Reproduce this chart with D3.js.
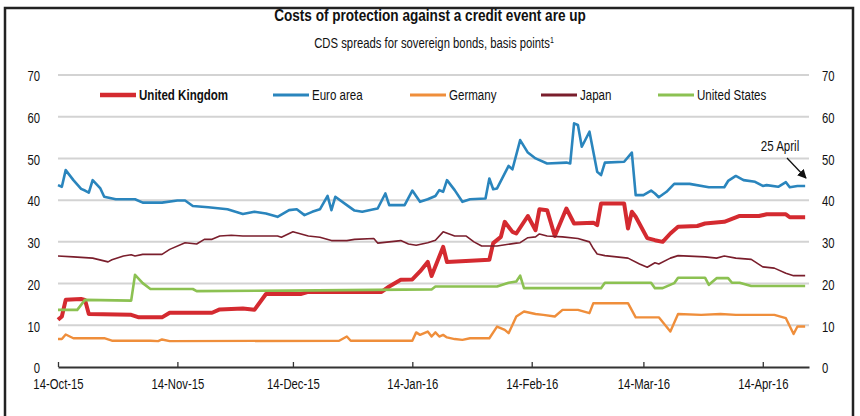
<!DOCTYPE html>
<html>
<head>
<meta charset="utf-8">
<script src="https://cdn.jsdelivr.net/npm/d3@7"></script>
<style>
  body { margin: 0; background: #fff; }
  svg text { font-family: "Liberation Sans", Arial, sans-serif; fill: #111; }
</style>
</head>
<body>
<svg id="chart" width="860" height="416"></svg>
<script>
// days counted from 14-Oct-15, value in basis points
const startDate = new Date(Date.UTC(2015, 9, 14));

const unitedKingdom = [[0,11.3],[1,12.1],[2,16.1],[6,16.3],[7,16.1],[8,12.7],[19,12.5],[21,11.9],[27,11.9],[29,13.0],
  [40,13.0],[42,13.8],[48,14.0],[51,13.7],[54,17.5],[63,17.5],[65,18.0],[84,18.0],[86,19.3],[89,20.9],[92,21.0],
  [94,22.9],[96,25.2],[97,21.8],[100,28.8],[101,25.2],[112,25.7],[113,29.7],[115,31.2],[116,34.8],[118,32.4],
  [119,32.0],[122,36.2],[124,32.8],[125,37.8],[127,37.6],[129,31.4],[132,38.0],[134,34.4],[139,34.6],[140,34.0],
  [141,39.2],[147,39.2],[148,33.2],[149,37.2],[150,36.0],[153,30.9],[155,30.4],[157,30.0],[159,32.0],[161,33.6],
  [166,33.8],[168,34.4],[173,34.8],[177,36.2],[182,36.2],[184,36.6],[189,36.6],[190,35.9],[194,35.9]];

const euroArea = [[0,43.6],[1,43.2],[2,47.2],[4,44.8],[6,42.7],[7,42.3],[8,41.8],[9,44.8],[11,42.8],[12,40.8],
  [15,40.2],[20,40.2],[22,39.4],[27,39.4],[31,39.9],[33,39.9],[35,38.6],[39,38.3],[44,37.8],[48,36.7],[51,37.2],
  [54,36.8],[57,36.0],[60,37.6],[62,37.8],[64,36.4],[66,37.2],[68,37.8],[70,41.0],[71,37.6],[72,40.8],[75,38.8],
  [77,37.5],[79,37.2],[82,37.8],[83,38.0],[85,41.6],[86,38.8],[90,38.8],[92,42.3],[94,39.6],[96,40.2],[98,41.0],
  [99,42.4],[100,42.0],[101,44.8],[103,42.4],[105,39.6],[107,40.2],[111,40.4],[112,45.2],[113,42.6],[114,42.8],
  [117,48.2],[118,47.4],[120,54.4],[122,51.4],[124,50.0],[127,48.8],[132,49.0],[133,48.8],[134,58.4],[135,58.0],
  [136,52.8],[138,56.4],[140,46.8],[141,46.0],[142,49.0],[147,49.2],[149,51.4],[150,41.2],[152,41.2],[154,42.3],
  [155,41.6],[156,40.7],[158,42.0],[160,43.9],[164,43.9],[169,43.1],[173,43.1],[174,44.6],[176,45.8],[178,44.8],
  [181,44.4],[183,43.4],[184,43.6],[187,43.2],[189,44.3],[190,43.1],[192,43.4],[194,43.4]];

const germany = [[0,6.7],[1,6.7],[2,7.8],[4,6.9],[12,6.9],[14,6.3],[24,6.3],[26,6.2],[27,6.6],[29,6.2],[73,6.3],
  [75,7.3],[76,6.3],[92,6.3],[93,8.3],[94,7.7],[96,8.5],[97,7.3],[98,8.3],[99,7.3],[100,7.7],[101,7.1],[103,6.7],
  [105,6.5],[107,6.9],[112,6.9],[114,9.7],[116,8.9],[117,8.1],[119,12.1],[121,13.3],[124,12.7],[126,12.5],
  [129,12.1],[131,13.7],[135,13.7],[138,12.9],[139,15.3],[148,15.3],[150,11.9],[156,11.9],[159,8.5],[161,12.7],
  [167,12.5],[172,12.7],[176,12.5],[186,12.5],[189,11.7],[191,7.9],[192,9.7],[194,9.7]];

const japan = [[0,26.6],[4,26.4],[9,26.1],[13,25.2],[14,25.7],[17,26.6],[19,26.9],[20,26.6],[22,27.0],[27,27.0],
  [29,28.2],[33,29.8],[36,29.5],[38,30.6],[40,30.6],[42,31.4],[45,31.6],[48,31.4],[57,31.4],[58,31.1],[61,32.4],
  [65,31.4],[68,31.1],[71,30.3],[75,30.3],[77,30.6],[82,30.8],[83,29.7],[86,30.0],[89,30.3],[91,29.5],[93,29.2],
  [96,29.8],[98,30.4],[100,32.4],[103,31.4],[106,31.4],[108,30.0],[110,29.0],[114,29.0],[119,29.7],[120,29.8],
  [122,31.0],[124,31.2],[125,31.9],[127,31.4],[131,31.2],[135,30.8],[138,30.0],[139,28.4],[140,27.1],[142,26.7],
  [148,26.1],[151,24.7],[153,23.9],[155,25.0],[156,24.7],[159,26.1],[161,26.7],[168,26.4],[171,26.1],[173,26.6],
  [176,26.1],[180,25.8],[183,24.0],[186,23.7],[189,22.5],[191,21.9],[194,21.9]];

const unitedStates = [[0,13.7],[5,13.7],[7,16.1],[19,15.9],[20,22.1],[22,20.1],[24,18.7],[35,18.7],[36,18.2],
  [60,18.3],[97,18.6],[98,19.3],[114,19.3],[117,20.2],[119,20.5],[120,21.9],[121,18.9],[141,18.9],[142,20.2],
  [154,20.2],[155,18.9],[157,18.9],[160,20.1],[161,21.4],[168,21.4],[169,19.7],[171,21.3],[174,21.3],[175,20.2],
  [177,20.2],[180,19.4],[194,19.4]];

const seriesNames = ["United Kingdom", "Euro area", "Germany", "Japan", "United States"];
const seriesData = [unitedKingdom, euroArea, germany, japan, unitedStates];
const seriesColors = ["#d42a30", "#2a85bd", "#ef8e3b", "#7a1e2c", "#8cc152"];
const seriesWidths = [4, 2.6, 2.4, 1.6, 2.6];

const yTicks = [0, 10, 20, 30, 40, 50, 60, 70];
const xTickDates = ["2015-10-14", "2015-11-14", "2015-12-14", "2016-01-14", "2016-02-14", "2016-03-14", "2016-04-14"];

// squeeze text horizontally, the original uses a narrow face
function narrow(sel, k) {
  sel.each(function() {
    const t = d3.select(this);
    const xv = +t.attr("x") || 0;
    t.attr("x", xv / k).attr("transform", "scale(" + k + ",1)");
  });
}

const svg = d3.select("#chart");
svg.append("rect").attr("width", 860).attr("height", 416).attr("fill", "#fff");

// frame
svg.append("path")
  .attr("d", "M5,416 V8 H853 V416")
  .attr("fill", "none").attr("stroke", "#222").attr("stroke-width", 2.5);

const title = svg.append("text").attr("x", 430).attr("y", 21).attr("text-anchor", "middle")
  .style("font-size", "17px").style("font-weight", "bold")
  .text("Costs of protection against a credit event are up");
const sub = svg.append("text").attr("x", 434).attr("y", 48).attr("text-anchor", "middle")
  .style("font-size", "14.5px");
sub.append("tspan").text("CDS spreads for sovereign bonds, basis points");
sub.append("tspan").attr("dy", -5).style("font-size", "9px").text("1");
narrow(title, 0.8);
narrow(sub, 0.78);

const x = d3.scaleUtc()
  .domain([startDate, d3.utcDay.offset(startDate, 195)])
  .range([58, 809]);
const y = d3.scaleLinear().domain([0, 70]).range([367, 75]);

// gridlines
svg.append("g").selectAll("line").data(yTicks.filter(d => d > 0)).enter().append("line")
  .attr("x1", 58).attr("x2", 809)
  .attr("y1", d => y(d)).attr("y2", d => y(d))
  .attr("stroke", "#d3d3d3").attr("stroke-width", 2);

const yLeft = svg.append("g").attr("transform", "translate(58,0)")
  .call(d3.axisLeft(y).tickValues(yTicks).tickSize(0).tickPadding(18));
const yRight = svg.append("g").attr("transform", "translate(809,0)")
  .call(d3.axisRight(y).tickValues(yTicks).tickSize(0).tickPadding(13));
[yLeft, yRight].forEach(g => {
  g.select(".domain").remove();
  g.selectAll("text").style("font-size", "14.5px").attr("dy", "0.4em").call(narrow, 0.78);
});

const xAxis = svg.append("g").attr("transform", "translate(0,367)")
  .call(d3.axisBottom(x)
    .tickValues(xTickDates.map(d => new Date(d + "T00:00:00Z")))
    .tickFormat(d3.utcFormat("%d-%b-%y"))
    .tickSize(-5).tickSizeOuter(0).tickPadding(12));
xAxis.select(".domain").attr("stroke", "#333").attr("stroke-width", 2);
xAxis.selectAll(".tick line").attr("stroke", "#333").attr("stroke-width", 1.3);
xAxis.selectAll("text").style("font-size", "14.5px").call(narrow, 0.78);

// lines
const line = d3.line()
  .x(d => x(d3.utcDay.offset(startDate, d[0])))
  .y(d => y(d[1]));

seriesData.forEach((s, i) => {
  svg.append("path").datum(s)
    .attr("fill", "none")
    .attr("stroke", seriesColors[i])
    .attr("stroke-width", seriesWidths[i])
    .attr("stroke-linejoin", "round")
    .attr("d", line);
});

// legend
const legendX = [100, 273, 410, 541, 658];
const legend = svg.append("g").attr("transform", "translate(0,95)");
seriesNames.forEach((name, i) => {
  legend.append("line")
    .attr("x1", legendX[i]).attr("x2", legendX[i] + 36)
    .attr("stroke", seriesColors[i])
    .attr("stroke-width", i === 0 ? 4.5 : 3);
  legend.append("text")
    .attr("x", legendX[i] + 39).attr("dy", "0.36em")
    .style("font-size", "15px")
    .style("font-weight", i === 0 ? "bold" : "normal")
    .text(name)
    .call(narrow, 0.77);
});

// annotation
svg.append("defs").append("marker")
  .attr("id", "arr").attr("viewBox", "0 0 10 10").attr("refX", 9).attr("refY", 5)
  .attr("markerWidth", 7).attr("markerHeight", 7).attr("orient", "auto")
  .append("path").attr("d", "M0,0 L10,5 L0,10 z").attr("fill", "#111");
svg.append("text").attr("x", 780).attr("y", 151).attr("text-anchor", "middle")
  .style("font-size", "15px").text("25 April").call(narrow, 0.77);
svg.append("line")
  .attr("x1", 787).attr("y1", 158).attr("x2", 806).attr("y2", 178)
  .attr("stroke", "#111").attr("stroke-width", 1.3).attr("marker-end", "url(#arr)");
</script>
</body>
</html>
